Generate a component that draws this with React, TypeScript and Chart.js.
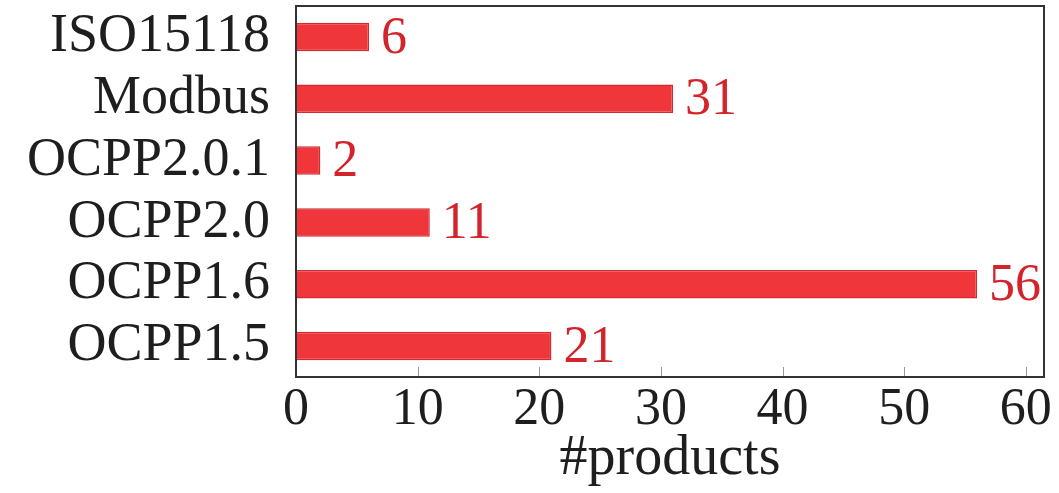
import React, { useEffect, useRef } from "react";
import { Chart, registerables } from "chart.js";

Chart.register(...registerables);

const categories = ["ISO15118", "Modbus", "OCPP2.0.1", "OCPP2.0", "OCPP1.6", "OCPP1.5"];
const products = [6, 31, 2, 11, 56, 21];
const xTicks = [0, 10, 20, 30, 40, 50, 60];
const xTitle = "#products";

const FONT = "'Liberation Serif', 'DejaVu Serif', serif";

const framePlugin = {
  id: "frameAndLabels",
  afterDatasetsDraw(chart: any) {
    const { ctx, chartArea } = chart;
    const xs = chart.scales.x;
    ctx.save();
    ctx.strokeStyle = "#999999";
    ctx.lineWidth = 1;
    xTicks.forEach((v) => {
      const px = Math.round(xs.getPixelForValue(v)) + 0.5;
      ctx.beginPath();
      ctx.moveTo(px, chartArea.bottom);
      ctx.lineTo(px, chartArea.bottom - 10);
      ctx.stroke();
    });
    ctx.strokeStyle = "#333333";
    ctx.lineWidth = 2;
    ctx.strokeRect(chartArea.left, chartArea.top, chartArea.right - chartArea.left, chartArea.bottom - chartArea.top);
    const meta = chart.getDatasetMeta(0);
    ctx.fillStyle = "#D3242B";
    ctx.font = `52px ${FONT}`;
    ctx.textBaseline = "middle";
    ctx.textAlign = "left";
    meta.data.forEach((bar: any, i: number) => {
      ctx.fillText(String(products[i]), bar.x + 12, bar.y + 2);
    });
    ctx.restore();
  },
};

export default function App() {
  const ref = useRef<HTMLCanvasElement>(null);
  useEffect(() => {
    const chart = new Chart(ref.current!, {
      type: "bar",
      data: {
        labels: categories,
        datasets: [
          {
            data: products,
            backgroundColor: "#EF363B",
            borderColor: "#D22A2F",
            borderWidth: 1.5,
            barPercentage: 0.46,
            categoryPercentage: 1,
          },
        ],
      },
      options: {
        indexAxis: "y",
        animation: false,
        responsive: false,
        maintainAspectRatio: false,
        layout: { padding: { top: 6, right: 15, left: 0, bottom: 0 } },
        plugins: { legend: { display: false }, tooltip: { enabled: false } },
        scales: {
          x: {
            type: "linear",
            min: 0,
            max: 61.5,
            afterBuildTicks(scale: any) {
              scale.ticks = xTicks.map((v) => ({ value: v }));
            },
            afterFit(scale: any) {
              scale.height = 116;
              scale.paddingLeft = 0;
              scale.paddingRight = 0;
            },
            grid: { display: false },
            border: { display: false },
            ticks: {
              color: "#1e1e1e",
              font: { family: FONT, size: 52 },
              padding: -6,
              maxRotation: 0,
              autoSkip: false,
            },
            title: {
              display: true,
              text: xTitle,
              color: "#1e1e1e",
              font: { family: FONT, size: 56 },
              padding: { top: 0, bottom: 0 },
            },
          },
          y: {
            afterFit(scale: any) {
              scale.width = 296;
              scale.paddingTop = 0;
              scale.paddingBottom = 0;
            },
            grid: { display: false },
            border: { display: false },
            ticks: {
              color: "#1e1e1e",
              font: { family: FONT, size: 54 },
              padding: 18,
              autoSkip: false,
            },
          },
        },
      },
      plugins: [framePlugin],
    });
    return () => chart.destroy();
  }, []);
  return (
    <div style={{ position: "fixed", left: 0, top: 0, width: 1059, height: 493, background: "#fff" }}>
      <canvas ref={ref} width={1059} height={493} style={{ width: 1059, height: 493 }} />
    </div>
  );
}
